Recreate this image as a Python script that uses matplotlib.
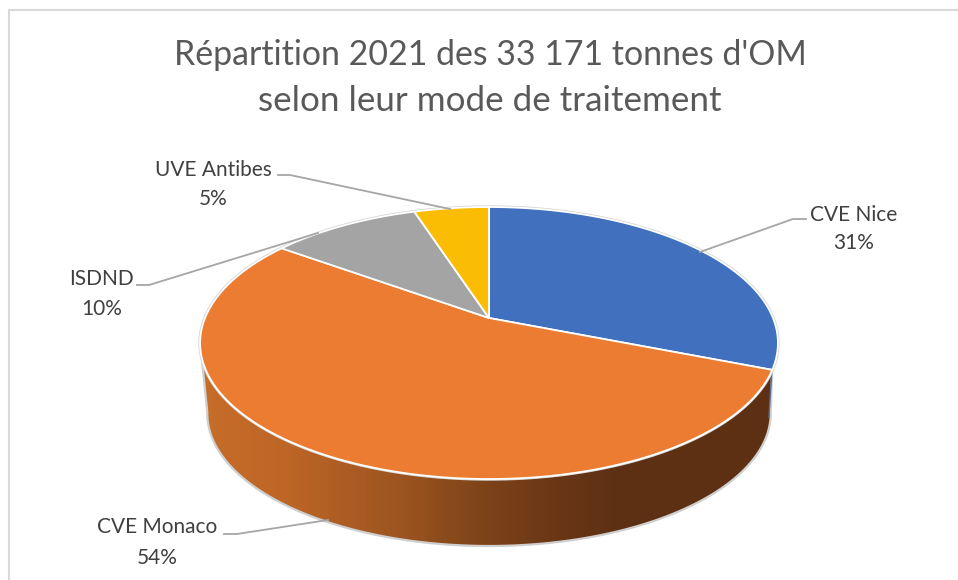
#!/usr/bin/env python3

import matplotlib
matplotlib.use('Agg')
import matplotlib.pyplot as plt
import numpy as np
from matplotlib.colors import LinearSegmentedColormap
from matplotlib.patches import Polygon

title = "Répartition 2021 des 33 171 tonnes d'OM\nselon leur mode de traitement"
labels = ['CVE Nice', 'CVE Monaco', 'ISDND', 'UVE Antibes']
values = [31, 54, 10, 5]
colors = ['#4170BF', '#EB7C31', '#A4A4A4', '#FBBD03']

plt.rcParams['font.family'] = ['Lato', 'DejaVu Sans']

# pixel space, same as the reference
fig = plt.figure(figsize=(9.58, 5.8), dpi=100)
ax = fig.add_axes([0, 0, 1, 1])
ax.set_xlim(0, 958)
ax.set_ylim(580, 0)
ax.axis('off')

# tilted disc, perspective puts the apex above the ellipse centre
cx, cy = 489, 318
k, rx, ry = 0.184, 284, 131.4


def rim(theta, y0=cy, scale=1.0):
    t = np.radians(theta)
    x, y = np.sin(t), -np.cos(t)
    d = 1 - k * y
    return np.column_stack([cx + scale * rx * x / d, y0 + scale * ry * y / d])


edges = np.concatenate([[0], np.cumsum(values)]) * 360 / sum(values)

# side wall with horizontal gradient
wall_cmap = LinearSegmentedColormap.from_list('wall', [
    (0.0, '#c76d2a'), (0.15, '#bd6626'), (0.35, '#9c5420'), (0.48, '#7f4519'),
    (0.58, '#6f3a17'), (0.72, '#5e3013'), (1.0, '#5e3013')])
top_rim = rim(np.linspace(edges[1], 260, 200))
low_rim = rim(np.linspace(260, 100, 200), y0=389, scale=0.975)
wall = Polygon(np.vstack([top_rim, low_rim]), closed=True, fc='none',
               ec='#cfcfcf', lw=1.6, zorder=3)
ax.add_patch(wall)
img = ax.imshow(np.linspace(0, 1, 578)[None, :], extent=[200, 778, 560, 330],
                cmap=wall_cmap, aspect='auto', zorder=2)
img.set_clip_path(wall)
ax.set_xlim(0, 958)
ax.set_ylim(580, 0)
ax.plot([772, 769], [368, 417], color='#5d6f96', lw=1, zorder=3)

# top face
ax.fill(*rim(np.linspace(0, 360, 400)).T, fc='none', ec='#d4d4d4', lw=2.4, zorder=3.5)
for i, c in enumerate(colors):
    arc = rim(np.linspace(edges[i], edges[i + 1], 120))
    ax.add_patch(Polygon(np.vstack([[cx, cy], arc]), closed=True, fc=c,
                         ec='white', lw=1.3, joinstyle='round', zorder=4))

# leader lines
leaders = [([806, 793, 700], [219, 219, 252]),
           ([224, 237, 328], [534, 534, 520]),
           ([137, 149, 318], [285, 285, 233]),
           ([278, 290, 450], [175, 175, 209])]
for lx, ly in leaders:
    ax.plot(lx, ly, color='#a6a6a6', lw=1.3, zorder=5)

# data labels
label_pos = [(854, 221, 249), (157, 533, 564), (102, 285, 315), (213, 176, 205)]
for name, v, (x, y1, y2) in zip(labels, values, label_pos):
    ax.text(x, y1, name, ha='center', va='baseline', fontsize=15, color='#404040', zorder=6)
    ax.text(x, y2, f'{v}%', ha='center', va='baseline', fontsize=15, color='#404040', zorder=6)

# title, second line a bit larger to get the same width as the reference
line1, line2 = title.split('\n')
ax.text(490, 65, line1, ha='center', va='baseline', fontsize=24.4, color='#595959')
ax.text(490, 111, line2, ha='center', va='baseline', fontsize=25.2, color='#595959')

# chart frame, cropped on the right and the bottom
ax.plot([9.5, 9.5, 958], [580, 10, 10], color='#d9d9d9', lw=1.5, zorder=1)

fig.savefig('out.png', dpi=100)
